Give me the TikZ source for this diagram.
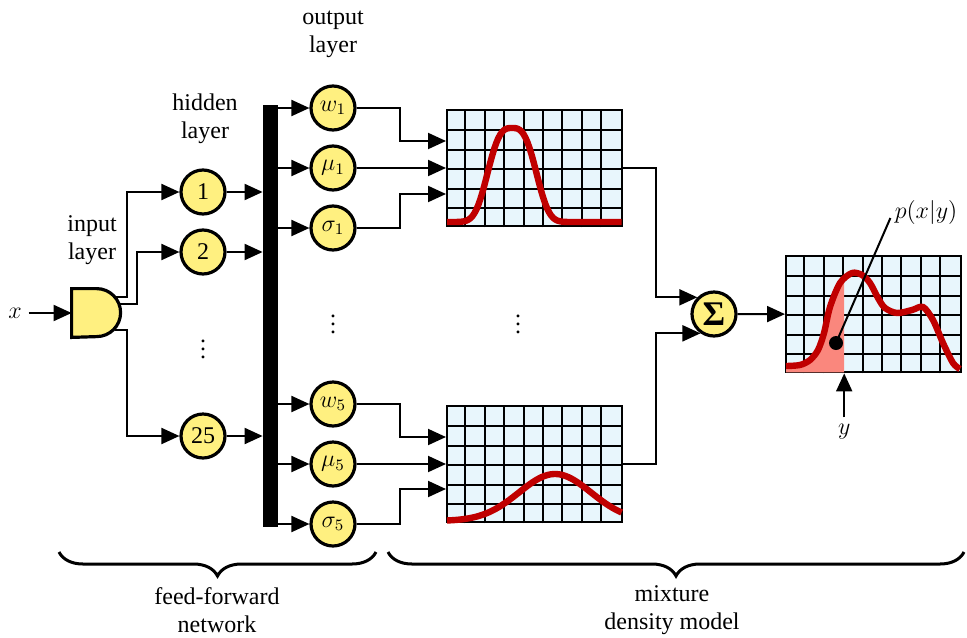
\documentclass[tikz,border=0pt]{standalone}
\usepackage{fontspec}
\setmainfont{Liberation Serif}
\usetikzlibrary{arrows.meta,positioning,decorations.pathreplacing}
\definecolor{neuronfill}{RGB}{255,240,128}
\definecolor{gridfill}{RGB}{232,246,252}
\definecolor{curvered}{RGB}{192,0,0}
\definecolor{areafill}{RGB}{250,135,125}

\begin{document}
\begin{tikzpicture}[
            x=0.5pt, y=-0.5pt,
            node distance=30pt,
            font=\fontsize{12}{14}\selectfont,
            % Stili dei nodi
            neuron/.style={circle, draw=black, line width=1.6pt, fill=neuronfill, minimum size=22pt, inner sep=0pt},
            plotbox/.style={rectangle, draw=black, line width=1pt, fill=gridfill, minimum width=87.3pt, minimum height=58.2pt, inner sep=0pt},
            layertext/.style={align=center},
            arrow/.style={line width=1pt, -{Triangle[length=9pt,width=8pt]}},
            link/.style={line width=1pt},
            densitycurve/.style={curvered, line width=3.2pt},
            curlybrace/.style={decorate, decoration={brace, amplitude=12pt}, line width=1.5pt}
        ]
        \useasboundingbox (0,0) rectangle (967,637);

        % Ingresso
        \node (xin) at (15,313) {$x$};
        \node (gate) [minimum width=24.5pt, minimum height=24pt, inner sep=0pt] at (96.5,313) {};
        \draw[line width=1.6pt, fill=neuronfill] (gate.north west) -- ++(12.5pt,0pt)
            arc[start angle=90, end angle=-90, radius=12pt] -- (gate.south west) -- cycle;
        \coordinate (go1) at (116,297);
        \coordinate (go2) at (119,304);
        \coordinate (go3) at (115,330);
        \node (inlab) [layertext] at (92,240) {input\\layer};

        % Strato nascosto
        \node (h1) [neuron] at (203,192) {1};
        \node (h2) [neuron, below of=h1] {2};
        \node (hdots) at (203,343) {$\vdots$};
        \node (h25) [neuron] at (203,436) {25};
        \node (hidlab) [layertext] at (205,119) {hidden\\layer};
        \node (bar) [fill=black, minimum width=7.5pt, minimum height=211pt, inner sep=0pt] at (270.5,316) {};

        % Strato di uscita
        \node (w1) [neuron] at (333,108) {$w_1$};
        \node (mu1) [neuron, below of=w1] {$\mu_1$};
        \node (s1) [neuron, below of=mu1] {$\sigma_1$};
        \node (odots) at (333,318) {$\vdots$};
        \node (w5) [neuron] at (333,404) {$w_5$};
        \node (mu5) [neuron, below of=w5] {$\mu_5$};
        \node (s5) [neuron, below of=mu5] {$\sigma_5$};
        \node (outlab) [layertext] at (333,34) {output\\layer};

        % Densita
        \node (plot1) [plotbox] at (534.3,168.2) {};
        \node (pdots) at (518,318) {$\vdots$};
        \node (plot2) [plotbox] at (534.3,464.2) {};
        \node (sig) [neuron] at (714,314) {\LARGE\bfseries Σ};
        \node (plot3) [plotbox] at (873.3,314.2) {};

        % Griglie
        \foreach \p in {plot1,plot2,plot3} {
            \foreach \i in {1,...,8}
                \draw[link] ([xshift=\i*9.7pt]\p.south west) -- ([xshift=\i*9.7pt]\p.north west);
            \foreach \j in {1,...,5}
                \draw[link] ([yshift=\j*9.7pt]\p.south west) -- ([yshift=\j*9.7pt]\p.south east);
        }

        % Area sotto la curva
        \begin{scope}
            \clip (786,256) rectangle (844.2,372);
            \fill[areafill] (786,372.4) -- plot[smooth] coordinates {(786,366) (800,365) (810,360) (818,350) (824,333) (830,307) (840,283) (852,273) (862,275) (870,283) (878,298) (885,308) (897,313) (912,310) (923,307) (933,320) (943,343) (953,363) (960,369)} -- (960,372.4) -- cycle;
        \end{scope}

        % Curve
        \draw[densitycurve] plot[domain=447:621.6, samples=90] (\x, {222-94*exp(-min(20,(abs(\x-512)/28.2)^3))});
        \draw[densitycurve] plot[domain=447:621.6, samples=60] (\x, {521-47*exp(-((\x-555)*(\x-555))/2600)});
        \draw[densitycurve] plot[smooth] coordinates {(786,366) (800,365) (810,360) (818,350) (824,333) (830,307) (840,283) (852,273) (862,275) (870,283) (878,298) (885,308) (897,313) (912,310) (923,307) (933,320) (943,343) (953,363) (960,369)};

        \node (pt) [circle, fill=black, minimum size=7pt, inner sep=0pt] at (836,343) {};
        \node (plab) [inner sep=2pt] at (926,212) {$p(x|y)$};
        \node (yin) at (844.2,432) {$y$};

        % Collegamenti
        \draw[arrow] (xin) -- (gate);
        \coordinate (b1) at (127,192);
        \coordinate (b2) at (137,252);
        \coordinate (b3) at (127,436);
        \draw[arrow] (go1) -| (b1) -- (h1);
        \draw[arrow] (go2) -| (b2) -- (h2);
        \draw[arrow] (go3) -| (b3) -- (h25);
        \foreach \n in {h1,h2,h25}
            \draw[arrow] (\n) -- (\n -| bar.west);
        \foreach \n in {w1,mu1,s1,w5,mu5,s5}
            \draw[arrow] (bar.east |- \n) -- (\n);

        \coordinate (k1) at (400,141);
        \coordinate (k2) at (400,194);
        \coordinate (k3) at (400,437);
        \coordinate (k4) at (400,489);
        \draw[arrow] (w1) -| (k1) -- (k1 -| plot1.west);
        \draw[arrow] (mu1) -- (mu1 -| plot1.west);
        \draw[arrow] (s1) -| (k2) -- (k2 -| plot1.west);
        \draw[arrow] (w5) -| (k3) -- (k3 -| plot2.west);
        \draw[arrow] (mu5) -- (mu5 -| plot2.west);
        \draw[arrow] (s5) -| (k4) -- (k4 -| plot2.west);

        \coordinate (c1) at (656,297);
        \coordinate (c2) at (656,332);
        \draw[arrow] (plot1.east) -| (c1) |- (sig.135);
        \draw[arrow] (plot2.east) -| (c2) |- (sig.-125);
        \draw[arrow] (sig) -- (plot3);

        \draw[link] (pt.center) -- ([yshift=-3pt]plab.west);
        \draw[arrow] (yin) -- (yin |- plot3.south);

        % Parentesi
        \draw[curlybrace] (376,552) -- (59,552);
        \draw[curlybrace] (964,552) -- (388,552);
        \node (ffn) [layertext] at (217,610) {feed-forward\\network};
        \node (mdm) [layertext] at (672,610) {mixture\\density model};

\end{tikzpicture}
\end{document}
